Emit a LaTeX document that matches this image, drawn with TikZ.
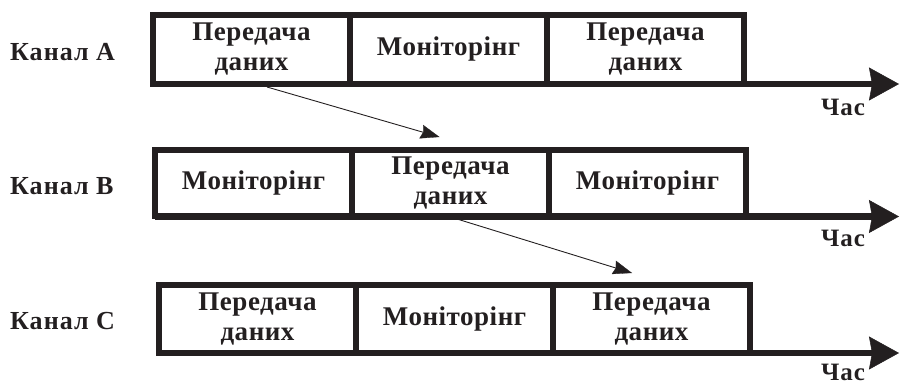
\documentclass[tikz,border=0pt]{standalone}
\usepackage{fontspec}
\setmainfont{Liberation Serif}[LetterSpace=2]
\newfontfamily\labfont{Liberation Serif}[LetterSpace=4]
\usetikzlibrary{arrows.meta}
\definecolor{ink}{RGB}{35,31,32}
\begin{document}
\begin{tikzpicture}[x=1pt,y=-1pt,
  cell/.style={draw=ink, line width=5.5pt, inner sep=0pt, outer sep=0pt,
    minimum width=197pt, align=center, text=ink,
    font=\bfseries\fontsize{27}{30}\selectfont},
  lab/.style={font=\labfont\bfseries\fontsize{26}{26}\selectfont, text=ink, anchor=west, inner sep=0pt},
  tlab/.style={font=\labfont\bfseries\fontsize{25}{26}\selectfont, text=ink, inner sep=0pt},
  axis/.style={draw=ink, line width=6.5pt,
    -{Stealth[length=30pt,width=33pt,inset=3pt,line width=0.5pt]}},
  link/.style={draw=ink, line width=0.9pt,
    -{Stealth[length=19pt,width=14pt,inset=2pt,line width=0.3pt]}}]
\useasboundingbox (0,0) rectangle (901,385);
% Row A
\node[lab] (la) at (10,52) {Канал А};
\node[cell, minimum height=69pt] (a1) at (251.5,49.5) {Передача\\даних};
\node[cell, minimum height=69pt] (a2) at (448.5,49.5) {Моніторінг};
\node[cell, minimum height=69pt] (a3) at (645.5,49.5) {Передача\\даних};
\coordinate (ae) at (899,84);
\draw[axis] (a1.south west) -- (ae);
\node[tlab] (ta) at (843,107) {Час};
% Row B
\node[lab] (lb) at (10,186) {Канал В};
\node[cell, minimum height=66.5pt] (b1) at (253.5,183.25) {Моніторінг};
\node[cell, minimum height=66.5pt] (b2) at (450.5,183.25) {Передача\\даних};
\node[cell, minimum height=66.5pt] (b3) at (647.5,183.25) {Моніторінг};
\coordinate (be) at (899,216.5);
\draw[axis] (b1.south west) -- (be);
\node[tlab] (tb) at (843,238) {Час};
% Row C
\node[lab] (lc) at (10,321) {Канал С};
\node[cell, minimum height=68pt] (c1) at (257.5,319) {Передача\\даних};
\node[cell, minimum height=68pt] (c2) at (454.5,319) {Моніторінг};
\node[cell, minimum height=68pt] (c3) at (651.5,319) {Передача\\даних};
\coordinate (ce) at (899,353);
\draw[axis] (c1.south west) -- (ce);
\node[tlab] (tc) at (843,372.5) {Час};
% links
\draw[link] ([xshift=15.5pt,yshift=-3pt]a1.south) -- ([xshift=-11pt,yshift=13pt]b2.north);
\draw[link] ([xshift=6.5pt,yshift=-2.5pt]b2.south) -- ([xshift=-19.5pt,yshift=12pt]c3.north);
\end{tikzpicture}
\end{document}
